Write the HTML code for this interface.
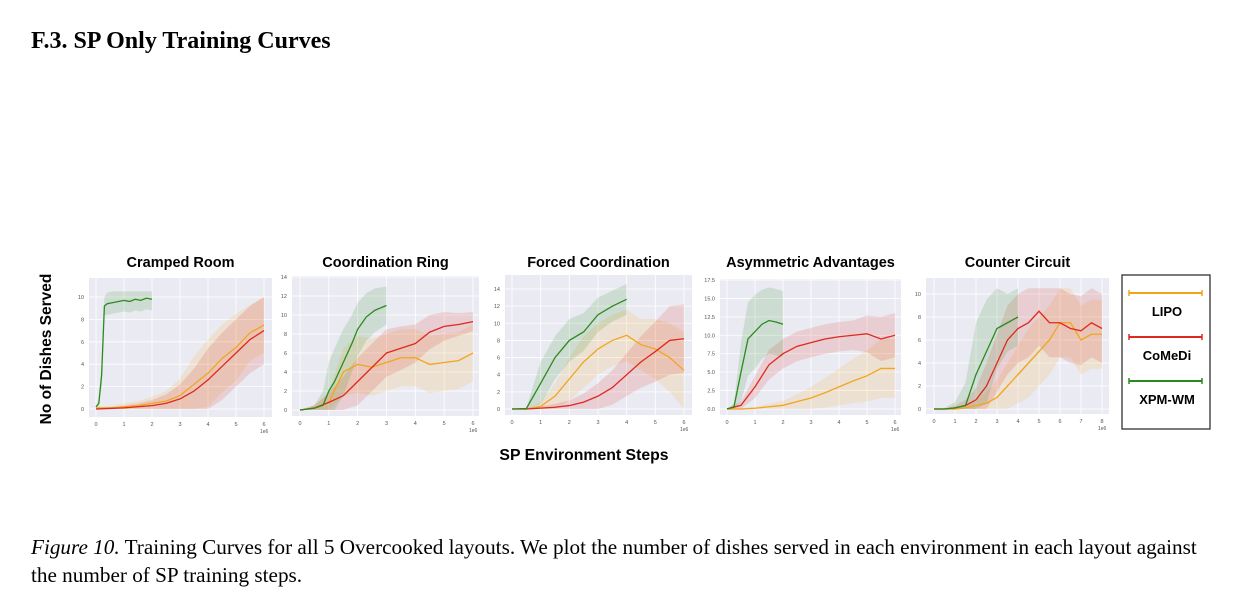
<!DOCTYPE html>
<html><head><meta charset="utf-8"><style>
body{margin:0;background:#fff;width:1254px;height:612px;overflow:hidden;position:relative;font-family:"Liberation Serif",serif}
.t{position:absolute;white-space:nowrap}
</style></head><body>
<div class="t" style="left:31px;top:28px;font-size:24px;font-weight:bold">F.3. SP Only Training Curves</div>
<svg id="fig" width="1254" height="612" style="position:absolute;left:0;top:0"></svg>
<div class="t" style="left:31px;top:533px;font-size:21.2px;line-height:28px"><i>Figure 10.</i> Training Curves for all 5 Overcooked layouts. We plot the number of dishes served in each environment in each layout against<br>the number of SP training steps.</div>
<script>
const titles=["Cramped Room","Coordination Ring","Forced Coordination","Asymmetric Advantages","Counter Circuit"];
const xMaxes=[6,6,6,6,8];
const yTickLabels=[["0","2","4","6","8","10"],["0","2","4","6","8","10","12","14"],["0","2","4","6","8","10","12","14"],["0.0","2.5","5.0","7.5","10.0","12.5","15.0","17.5"],["0","2","4","6","8","10"]];
const yTickValues=[[0,2,4,6,8,10],[0,2,4,6,8,10,12,14],[0,2,4,6,8,10,12,14],[0,2.5,5,7.5,10,12.5,15,17.5],[0,2,4,6,8,10]];
// green (XPM-WM)
const greenX=[[0,0.1,0.2,0.3,0.4,0.6,0.8,1.0,1.2,1.4,1.6,1.8,2.0],[0,0.5,0.8,1.0,1.2,1.5,1.8,2.0,2.3,2.6,3.0],[0,0.5,1,1.5,2,2.5,3,3.5,4],[0,0.25,0.5,0.75,1,1.25,1.5,1.75,2],[0,0.5,1,1.5,2,2.5,3,3.5,4]];
const greenY=[[0.2,0.5,3,9.2,9.4,9.5,9.6,9.7,9.6,9.8,9.7,9.9,9.8],[0,0.2,0.5,2,3,5,7,8.5,9.8,10.5,11],[0,0.05,3,6,8,9,11,12,12.8],[0,0.3,5,9.5,10.5,11.5,12,11.8,11.5],[0,0,0.1,0.3,3,5,7,7.5,8]];
const greenBand=[[0.1,0.3,1,0.8,1,1,1,1,1,1,1,1,1],[0,0.3,1.5,3,3.5,3.5,3,2.8,2.5,2.3,2],[0,0.1,2.5,2.5,2.5,2.2,2,1.8,1.8],[0,0.5,4,5,5,4.7,4.5,4.5,4.5],[0,0.1,0.5,2,4.5,4.5,3.5,2.5,2.5]];
// orange (LIPO), step 0.5
const orangeY=[[0.1,0.1,0.2,0.3,0.5,0.7,1.2,2.2,3.2,4.5,5.5,6.8,7.5],[0,0.2,0.8,4,4.8,4.5,5,5.5,5.5,4.8,5,5.2,6],[0,0,0.3,1.5,3.5,5.5,7,8,8.6,7.5,7,6,4.5],[0,0,0.1,0.3,0.5,1,1.5,2.2,3,3.8,4.5,5.5,5.5],[0,0,0,0.1,0.3,0.5,1,2,3,4,5,6,7.5,7.5,6,6.5,6.5]];
const orangeBand=[[0.1,0.2,0.3,0.4,0.6,0.9,1.5,2.5,3,3,3,2.5,2.5],[0,0.3,1,2.5,3,3,3,3,3,3,3,3,3],[0,0.1,0.5,1.5,2.5,3,3,3,3,3,3.5,4,4.5],[0,0.1,0.2,0.4,0.6,1,1.5,2,2.5,3,3.5,4,4],[0,0,0.1,0.3,0.5,1,1.5,2,2.5,3,3,3,3,3,3,3,3]];
const redY=[[0,0.05,0.1,0.2,0.3,0.5,0.9,1.6,2.6,3.8,5,6.2,7],[0,0.2,0.8,1.5,3,4.5,6,6.5,7,8.2,8.8,9,9.3],[0,0,0.1,0.2,0.4,0.8,1.5,2.5,4,5.5,6.7,8,8.2],[0,0.5,3,6,7.5,8.5,9,9.5,9.8,10,10.2,9.5,10],[0,0,0.1,0.3,0.8,2,4,6,7,7.5,8.5,7.5,7.5,7,6.8,7.5,7]];
const redBand=[[0.1,0.1,0.2,0.3,0.5,0.8,1.3,2,2.8,3,3,3,3],[0,0.3,1,2,2.5,2.5,2.5,2.3,2,1.8,1.5,1.2,1],[0,0,0.2,0.4,0.6,1,1.5,2,2.5,3,3.5,4,4],[0,0.5,1.5,2,2,2,2,2,2,2,2.5,3,3],[0,0,0.2,0.5,1,2,2.5,3,3,3,3,3,3,3,3,3,3]];
const panels=[{x0:89,x1:272,y0:278,y1:417,px0:96,px1:264,py0:409,py1:297,vy1:10},
{x0:292,x1:479,y0:276,y1:416,px0:300,px1:473,py0:410,py1:277,vy1:14},
{x0:505,x1:692,y0:275,y1:415,px0:512,px1:684,py0:409,py1:289,vy1:14},
{x0:720,x1:901,y0:279,y1:415,px0:727,px1:895,py0:409,py1:280,vy1:17.5},
{x0:926,x1:1109,y0:278,y1:414,px0:934,px1:1102,py0:409,py1:294,vy1:10}];
const NS="http://www.w3.org/2000/svg";
const svg=document.getElementById('fig');
function mk(tag,a,parent){const e=document.createElementNS(NS,tag);for(const k in a)e.setAttribute(k,a[k]);(parent||svg).appendChild(e);return e;}
const C={g:"#2b8a1e",r:"#e0281e",o:"#f2a51c"};
panels.forEach((p,i)=>{
  const g=mk('g',{});
  
  
  const sx=v=>p.px0+(p.px1-p.px0)*v/xMaxes[i];
  const sy=v=>p.py0+(p.py1-p.py0)*v/p.vy1;
  const bg=mk('rect',{x:p.x0,y:p.y0,width:p.x1-p.x0,height:p.y1-p.y0,fill:"#eaeaf2"},g);
  
  
  const t=mk('text',{x:(p.x0+p.x1)/2,y:267,'text-anchor':'middle','font-family':'Liberation Sans, sans-serif','font-size':14.5,'font-weight':'bold'},g);t.textContent=titles[i];
  
  
  for(let k=0;k<=xMaxes[i];k++){const x=sx(k);mk('line',{x1:x,x2:x,y1:p.y0,y2:p.y1,stroke:'#fff','stroke-width':0.8},g);
    const tl=mk('text',{x:x,y:p.y1+9,'text-anchor':'middle','font-size':5.5,fill:'#555','font-family':'Liberation Sans, sans-serif'},g);tl.textContent=k;
    
    }
  const e6=mk('text',{x:p.px1-4,y:p.y1+16,'font-size':5,fill:'#555','font-family':'Liberation Sans, sans-serif'},g);e6.textContent='1e6';
  yTickValues[i].forEach((v,j)=>{const y=sy(v);mk('line',{x1:p.x0,x2:p.x1,y1:y,y2:y,stroke:'#fff','stroke-width':0.8},g);
    const tl=mk('text',{x:p.x0-5,y:y+2,'text-anchor':'end','font-size':5.5,fill:'#555','font-family':'Liberation Sans, sans-serif'},g);tl.textContent=yTickLabels[i][j];
    
    });
  const series=[
    {name:'lipo',c:C.o,xs:orangeY[i].map((_,k)=>k*0.5),ys:orangeY[i],b:orangeBand[i]},
    {name:'comedi',c:C.r,xs:redY[i].map((_,k)=>k*0.5),ys:redY[i],b:redBand[i]},
    {name:'xpm-wm',c:C.g,xs:greenX[i],ys:greenY[i],b:greenBand[i]}];
  series.forEach(s=>{
    const up=s.xs.map((x,k)=>sx(x)+','+sy(Math.min(p.vy1*1.05,s.ys[k]+s.b[k])));
    const dn=s.xs.map((x,k)=>sx(x)+','+sy(Math.max(0,s.ys[k]-s.b[k]))).reverse();
    const band=mk('polygon',{points:up.concat(dn).join(' '),fill:s.c,'fill-opacity':0.15},g);
    
    
  });
  series.forEach(s=>{
    const ln=mk('polyline',{points:s.xs.map((x,k)=>sx(x)+','+sy(s.ys[k])).join(' '),fill:'none',stroke:s.c,'stroke-width':1.3},g);
    
    
  });
});
const yl=mk('text',{x:0,y:0,transform:'translate(51,349) rotate(-90)','text-anchor':'middle','font-family':'Liberation Sans, sans-serif','font-size':15.5,'font-weight':'bold'});yl.textContent='No of Dishes Served';


const xl=mk('text',{x:584,y:460,'text-anchor':'middle','font-family':'Liberation Sans, sans-serif','font-size':15.8,'font-weight':'bold'});xl.textContent='SP Environment Steps';


const lg=mk('g',{});


mk('rect',{x:1122,y:275,width:88,height:154,fill:'#fff',stroke:'#333','stroke-width':1.3},lg);
[['LIPO',C.o,293,316],['CoMeDi',C.r,337,360],['XPM-WM',C.g,381,404]].forEach(([n,c,ly,ty])=>{
  const e=mk('g',{},lg);
  
  
  mk('line',{x1:1129,x2:1202,y1:ly,y2:ly,stroke:c,'stroke-width':2},e);
  mk('line',{x1:1129,x2:1129,y1:ly-3,y2:ly+3,stroke:c,'stroke-width':1.5},e);
  mk('line',{x1:1202,x2:1202,y1:ly-3,y2:ly+3,stroke:c,'stroke-width':1.5},e);
  const t=mk('text',{x:1167,y:ty,'text-anchor':'middle','font-family':'Liberation Sans, sans-serif','font-size':13,'font-weight':'bold'},e);t.textContent=n;
});
</script>
</body></html>
